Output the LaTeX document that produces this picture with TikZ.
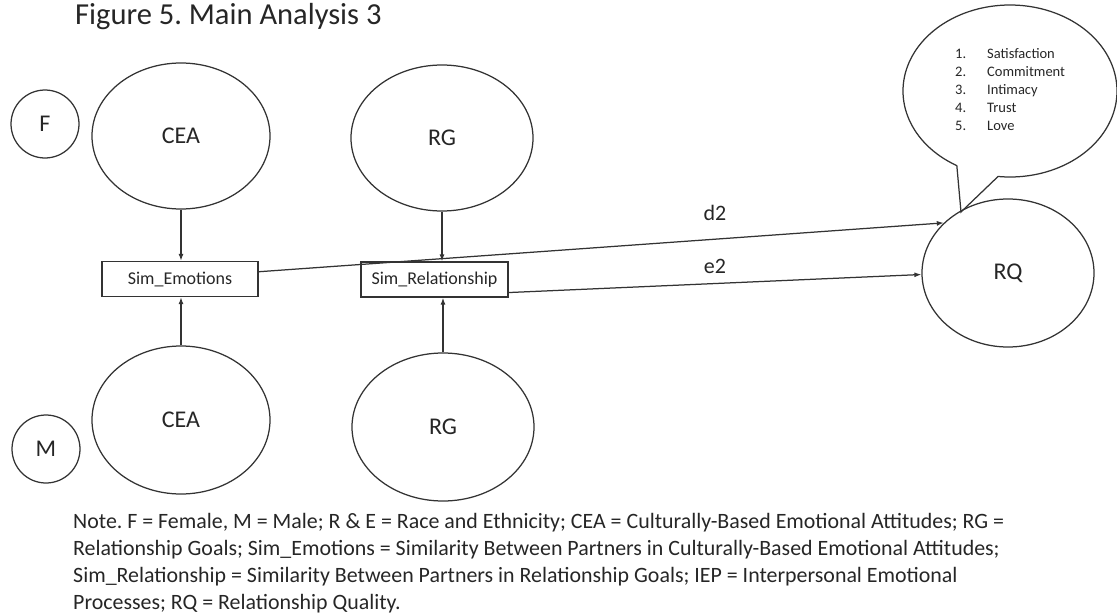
\documentclass[tikz,border=0pt]{standalone}
\usepackage{fontspec}
\setmainfont{Carlito}
\usetikzlibrary{shapes.geometric,arrows.meta,calc}
\frenchspacing
\begin{document}
\begin{tikzpicture}[x=1pt,y=-1pt,
  line/.style={line width=1.25pt, draw=black!80},
  latent/.style={ellipse, line, inner sep=0pt, font=\fontsize{24}{28}\selectfont},
  smallc/.style={circle, line, minimum size=68pt, inner sep=0pt, font=\fontsize{24}{28}\selectfont},
  obs/.style={rectangle, line, inner sep=0pt, minimum height=35pt, font=\fontsize{18}{21}\selectfont},
  regpath/.style={line, -{Latex[length=7pt,width=5pt]}},
  lab/.style={font=\fontsize{22}{26}\selectfont, inner sep=0pt},
  notetext/.style={anchor=base west, inner sep=0pt, font=\fontsize{21.9}{27}\selectfont},
  every node/.append style={text=black!85},
]
\useasboundingbox (0,0) rectangle (1117,613);

% title
\node[anchor=base west, inner sep=0pt, font=\fontsize{30.5}{36}\selectfont] (title) at (75,24) {Figure 5. Main Analysis 3};

% group markers
\node[smallc] (F) at (45,124) {F};
\node[smallc] (M) at (46,449) {M};

% latent constructs
\node[latent, minimum width=178pt, minimum height=146pt] (CEAf) at (181,136) {CEA};
\node[latent, minimum width=182pt, minimum height=146pt] (RGf) at (442,138) {RG};
\node[latent, minimum width=178pt, minimum height=148pt] (CEAm) at (181,420) {CEA};
\node[latent, minimum width=182pt, minimum height=148pt] (RGm) at (443,427) {RG};

% similarity scores
\node[obs, minimum width=156pt] (SE) at (180,279) {Sim\_Emotions};
\node[obs, minimum width=147pt] (SR) at (434.5,279.5) {Sim\_Relationship};

% speech bubble listing the outcome facets
\coordinate (tip) at (961,212);
\draw[line, line join=miter] (tip) -- plot[domain=119.8:456.4, samples=200] ({1010+107*cos(\x)}, {91+86*sin(\x)}) -- cycle;
\node[anchor=north west, inner sep=0pt, align=left, font=\fontsize{14.5}{17.9}\selectfont] (items) at (955,48.5)
  {\makebox[32pt][l]{1.}Satisfaction\\
   \makebox[32pt][l]{2.}Commitment\\
   \makebox[32pt][l]{3.}Intimacy\\
   \makebox[32pt][l]{4.}Trust\\
   \makebox[32pt][l]{5.}Love};

% outcome
\node[latent, minimum width=172pt, minimum height=148pt] (RQ) at (1008,273) {RQ};

% paths
\draw[regpath] (CEAf.south) -- (CEAf.south |- SE.north);
\draw[regpath] (CEAm.north) -- (CEAm.north |- SE.south);
\draw[regpath] (RGf.south) -- (RGf.south |- SR.north);
\draw[regpath] (RGm.north) -- (RGm.north |- SR.south);
\draw[regpath] ($(SE.north east)!0.3!(SE.south east)$) -- (RQ.142);
\draw[regpath] ($(SR.north east)!0.86!(SR.south east)$) -- (RQ.181);
\node[lab] (d2) at (715,213) {d2};
\node[lab] (e2) at (715,266) {e2};

% note
\node[notetext] (note1) at (73,528.3) {Note. F = Female, M = Male; R \& E = Race and Ethnicity; CEA = Culturally-Based Emotional Attitudes; RG =};
\node[notetext] (note2) at (73,555.3) {Relationship Goals; Sim\_Emotions = Similarity Between Partners in Culturally-Based Emotional Attitudes;};
\node[notetext] (note3) at (73,582.7) {Sim\_Relationship = Similarity Between Partners in Relationship Goals; IEP = Interpersonal Emotional};
\node[notetext] (note4) at (73,609.3) {Processes; RQ = Relationship Quality.};
\end{tikzpicture}
\end{document}
